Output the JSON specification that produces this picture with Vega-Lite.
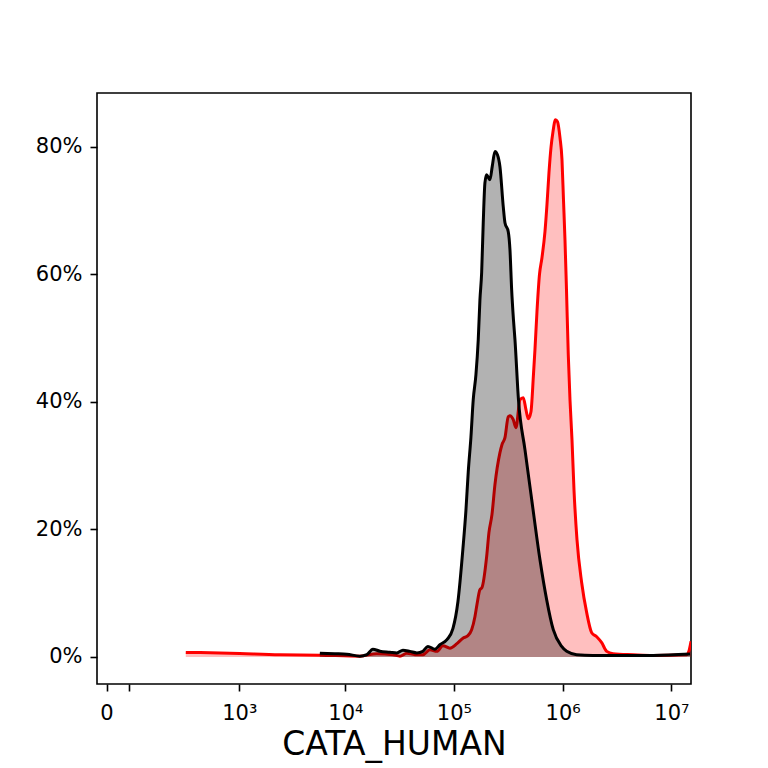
{
  "$schema": "https://vega.github.io/schema/vega-lite/v6.json",
  "width": 594,
  "height": 591,
  "autosize": {"type": "none"},
  "padding": {"left": 97, "top": 93, "right": 77, "bottom": 84},
  "background": "white",
  "datasets": {
    "red": [
      {"x": 278.7, "y": 0.0072}, {"x": 806, "y": 0.0060}, {"x": 2446, "y": 0.0036}, {"x": 5792, "y": 0.0028},
      {"x": 13600, "y": 0.0013}, {"x": 19514, "y": 0.0052}, {"x": 27424, "y": 0.0036}, {"x": 31821, "y": 0.0013},
      {"x": 36909, "y": 0.0060}, {"x": 43744, "y": 0.0036}, {"x": 51834, "y": 0.0036}, {"x": 60122, "y": 0.0115},
      {"x": 69734, "y": 0.0088}, {"x": 79194, "y": 0.0177}, {"x": 91891, "y": 0.0138}, {"x": 106560, "y": 0.0209},
      {"x": 121024, "y": 0.0295}, {"x": 134554, "y": 0.0334}, {"x": 145543, "y": 0.0428}, {"x": 156058, "y": 0.0632},
      {"x": 162816, "y": 0.0820}, {"x": 173523, "y": 0.1056}, {"x": 181030, "y": 0.1087}, {"x": 200006, "y": 0.1573},
      {"x": 209958, "y": 0.1950}, {"x": 223782, "y": 0.2232}, {"x": 238426, "y": 0.2703}, {"x": 265094, "y": 0.3205},
      {"x": 276570, "y": 0.3330}, {"x": 294720, "y": 0.3440}, {"x": 316109, "y": 0.3769}, {"x": 327674, "y": 0.3785},
      {"x": 351418, "y": 0.3722}, {"x": 372070, "y": 0.3597}, {"x": 404941, "y": 0.4036}, {"x": 434291, "y": 0.4067},
      {"x": 459814, "y": 0.3879}, {"x": 482822, "y": 0.3738}, {"x": 511194, "y": 0.3848}, {"x": 538988, "y": 0.4428},
      {"x": 556416, "y": 0.4820}, {"x": 580544, "y": 0.5416}, {"x": 612096, "y": 0.5997}, {"x": 645376, "y": 0.6263},
      {"x": 687744, "y": 0.6671}, {"x": 717504, "y": 0.7095}, {"x": 748608, "y": 0.7597}, {"x": 780992, "y": 0.7989},
      {"x": 814784, "y": 0.8240}, {"x": 859072, "y": 0.8428}, {"x": 896320, "y": 0.8397}, {"x": 945088, "y": 0.8146},
      {"x": 985920, "y": 0.7801}, {"x": 1017700, "y": 0.7173}, {"x": 1050560, "y": 0.6546}, {"x": 1084540, "y": 0.5762},
      {"x": 1126530, "y": 0.4742}, {"x": 1167940, "y": 0.4036}, {"x": 1218500, "y": 0.3409}, {"x": 1271230, "y": 0.2624},
      {"x": 1354560, "y": 0.1840}, {"x": 1496320, "y": 0.1165}, {"x": 1663550, "y": 0.0695}, {"x": 1849470, "y": 0.0381},
      {"x": 2056190, "y": 0.0318}, {"x": 2286020, "y": 0.0224}, {"x": 2541500, "y": 0.0088}, {"x": 2904510, "y": 0.0052},
      {"x": 4436420, "y": 0.0036}, {"x": 6777000, "y": 0.0025}, {"x": 13836000, "y": 0.0036}, {"x": 14619500, "y": 0.0115},
      {"x": 15154000, "y": 0.0245}
    ],
    "black": [
      {"x": 5792, "y": 0.0060}, {"x": 7981, "y": 0.0052}, {"x": 10310, "y": 0.0044}, {"x": 13600, "y": 0.0013},
      {"x": 15782, "y": 0.0036}, {"x": 17926, "y": 0.0122}, {"x": 20806, "y": 0.0091}, {"x": 25728, "y": 0.0075},
      {"x": 29856, "y": 0.0063}, {"x": 33907, "y": 0.0107}, {"x": 39328, "y": 0.0088}, {"x": 45638, "y": 0.0063},
      {"x": 51834, "y": 0.0088}, {"x": 57619, "y": 0.0166}, {"x": 66842, "y": 0.0122}, {"x": 74342, "y": 0.0193},
      {"x": 86227, "y": 0.0271}, {"x": 97888, "y": 0.0444}, {"x": 108845, "y": 0.0867}, {"x": 121024, "y": 0.1700},
      {"x": 128973, "y": 0.2300}, {"x": 135430, "y": 0.2900}, {"x": 143400, "y": 0.3450}, {"x": 150573, "y": 0.4036},
      {"x": 159418, "y": 0.4428}, {"x": 167398, "y": 0.4977}, {"x": 173523, "y": 0.5605}, {"x": 179904, "y": 0.6028},
      {"x": 186105, "y": 0.6813}, {"x": 192915, "y": 0.7440}, {"x": 200006, "y": 0.7565}, {"x": 207757, "y": 0.7518},
      {"x": 214458, "y": 0.7487}, {"x": 225190, "y": 0.7696}, {"x": 238426, "y": 0.7931}, {"x": 251398, "y": 0.7879},
      {"x": 265094, "y": 0.7691}, {"x": 284320, "y": 0.7064}, {"x": 294720, "y": 0.6813}, {"x": 316109, "y": 0.6672},
      {"x": 327674, "y": 0.6389}, {"x": 339661, "y": 0.5762}, {"x": 352883, "y": 0.5291}, {"x": 364282, "y": 0.4977},
      {"x": 392320, "y": 0.4036}, {"x": 450227, "y": 0.3252}, {"x": 518733, "y": 0.2475}, {"x": 618630, "y": 0.1526},
      {"x": 712900, "y": 0.0899}, {"x": 819900, "y": 0.0428}, {"x": 979460, "y": 0.0166}, {"x": 1089000, "y": 0.0088},
      {"x": 1345900, "y": 0.0036}, {"x": 1902000, "y": 0.0025}, {"x": 6777000, "y": 0.0025}, {"x": 14840000, "y": 0.0047}
    ]
  },
  "encoding": {
    "x": {
      "field": "x",
      "type": "quantitative",
      "scale": {"type": "symlog", "constant": 64, "domain": [-14.3, 15140000], "nice": false, "zero": false},
      "axis": {
        "values": [0, 40, 1000, 10000, 100000, 1000000, 10000000],
        "labelExpr": "datum.value == 0 ? '0' : datum.value == 1000 ? '10³' : datum.value == 10000 ? '10⁴' : datum.value == 100000 ? '10⁵' : datum.value == 1000000 ? '10⁶' : datum.value == 10000000 ? '10⁷' : ''",
        "title": "CATA_HUMAN",
        "labelPadding": 11,
        "titlePadding": 5,
        "titleFontSize": 33
      }
    },
    "y": {
      "field": "y",
      "type": "quantitative",
      "scale": {"domain": [-0.0424, 0.8847], "nice": false, "zero": false},
      "axis": {"values": [0, 0.2, 0.4, 0.6, 0.8], "format": ".0%", "title": null, "labelPadding": 8}
    }
  },
  "layer": [
    {
      "data": {"name": "red"},
      "mark": {"type": "area", "color": "#ff0000", "fillOpacity": 0.25, "interpolate": "monotone", "clip": true},
      "encoding": {"y2": {"datum": 0}}
    },
    {
      "data": {"name": "red"},
      "mark": {"type": "line", "color": "#ff0000", "strokeWidth": 3, "interpolate": "monotone", "clip": true},
      "encoding": {}
    },
    {
      "data": {"name": "black"},
      "mark": {"type": "area", "color": "#000000", "fillOpacity": 0.3, "interpolate": "monotone", "clip": true},
      "encoding": {"y2": {"datum": 0}}
    },
    {
      "data": {"name": "black"},
      "mark": {"type": "line", "color": "#000000", "strokeWidth": 3, "interpolate": "monotone", "clip": true},
      "encoding": {}
    }
  ],
  "config": {
    "font": "DejaVu Sans",
    "view": {"stroke": "#000000", "strokeWidth": 1.6},
    "axis": {
      "grid": false,
      "domain": false,
      "tickColor": "#000000",
      "tickWidth": 1.6,
      "tickSize": 7,
      "labelColor": "#000000",
      "labelFontSize": 21,
      "labelFont": "DejaVu Sans",
      "labelOverlap": false,
      "labelFlush": false,
      "titleColor": "#000000",
      "titleFont": "DejaVu Sans",
      "titleFontWeight": "normal"
    }
  }
}
